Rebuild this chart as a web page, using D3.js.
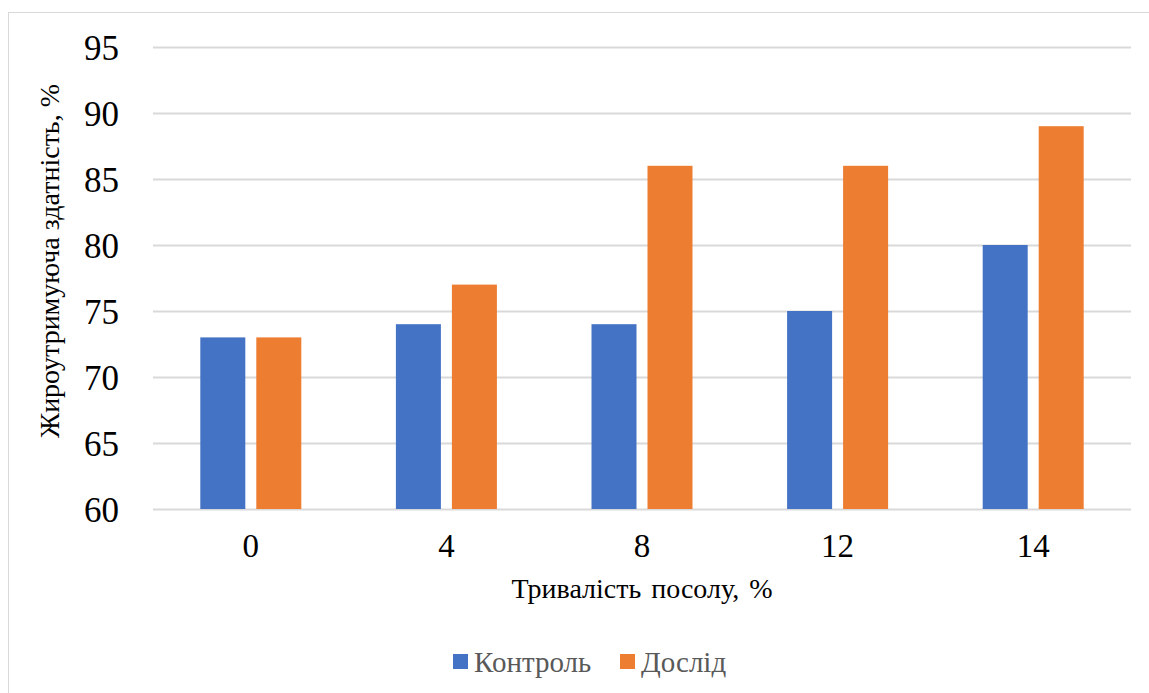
<!DOCTYPE html>
<html>
<head>
<meta charset="utf-8">
<script src="https://cdn.jsdelivr.net/npm/d3@7/dist/d3.min.js"></script>
<style>
  html, body { margin: 0; padding: 0; background: #fff; }
  svg { display: block; font-family: "Liberation Serif", "Times New Roman", serif; }
</style>
</head>
<body>
<svg id="chart" width="1149" height="693"></svg>
<script>
// Salting duration categories and fat-holding capacity per series
const categories = ["0", "4", "8", "12", "14"];
const seriesNames = ["Контроль", "Дослід"];
const control = [73, 74, 74, 75, 80];
const experiment = [73, 77, 86, 86, 89];
const yTicks = [60, 65, 70, 75, 80, 85, 90, 95];
const colors = ["#4472C4", "#ED7D31"];

const FONT = "Liberation Serif, Times New Roman, serif";
const svg = d3.select("#chart");
const W = 1149, H = 693;

// Outer chart frame
svg.append("rect")
  .attr("x", 8.5).attr("y", 12.5)
  .attr("width", W + 10).attr("height", H + 10)
  .attr("fill", "#fff").attr("stroke", "#d9d9d9").attr("stroke-width", 1);

const plot = { left: 153, right: 1131, top: 47, bottom: 509 };

const x = d3.scaleBand().domain(categories).range([plot.left, plot.right]).padding(0);
const y = d3.scaleLinear().domain([60, 95]).range([plot.bottom, plot.top]);

// Horizontal gridlines
svg.append("g")
  .selectAll("line")
  .data(yTicks)
  .join("line")
  .attr("x1", plot.left).attr("x2", plot.right)
  .attr("y1", d => Math.round(y(d)) + 0.5).attr("y2", d => Math.round(y(d)) + 0.5)
  .attr("stroke", "#d9d9d9").attr("stroke-width", 2);

// Y axis labels
const yAxis = d3.axisLeft(y).tickValues(yTicks).tickSize(0).tickPadding(0);
const gy = svg.append("g").attr("transform", "translate(119,0)").call(yAxis);
gy.attr("font-family", FONT);
gy.select(".domain").remove();
gy.selectAll("text")
  .attr("font-family", FONT)
  .attr("font-size", 35).attr("fill", "#000").attr("dy", 12);

// X axis labels
const xAxis = d3.axisBottom(x).tickSize(0).tickPadding(0);
const gx = svg.append("g").attr("transform", `translate(0,${557})`).call(xAxis);
gx.attr("font-family", FONT);
gx.select(".domain").remove();
gx.selectAll("text")
  .attr("font-family", FONT)
  .attr("font-size", 33).attr("fill", "#000").attr("y", 0).attr("dy", 0);

// Bars: two series within each category band
const barW = 45, gap = 11;
const sub = d3.scaleOrdinal().domain(seriesNames).range([-(gap / 2 + barW), gap / 2]);
const data = categories.map((c, i) => ({ c, vals: [control[i], experiment[i]] }));

svg.append("g")
  .selectAll("g")
  .data(data)
  .join("g")
  .attr("transform", d => `translate(${x(d.c) + x.bandwidth() / 2},0)`)
  .selectAll("rect")
  .data(d => d.vals.map((v, j) => ({ v, s: seriesNames[j], j })))
  .join("rect")
  .attr("x", d => sub(d.s))
  .attr("width", barW)
  .attr("y", d => y(d.v))
  .attr("height", d => y(60) - y(d.v))
  .attr("fill", d => colors[d.j]);

// Axis titles
svg.append("text")
  .attr("x", (plot.left + plot.right) / 2).attr("y", 598)
  .attr("text-anchor", "middle")
  .attr("font-family", FONT)
  .attr("font-size", 28).attr("fill", "#000")
  .attr("word-spacing", 3)
  .text("Тривалість посолу, %");

svg.append("text")
  .attr("transform", "translate(59,261) rotate(-90)")
  .attr("text-anchor", "middle")
  .attr("font-family", FONT)
  .attr("font-size", 28).attr("fill", "#000")
  .text("Жироутримуюча здатність, %");

// Legend
const legend = svg.append("g");
const legendItems = [
  { name: seriesNames[0], color: colors[0], x: 453 },
  { name: seriesNames[1], color: colors[1], x: 620 }
];
legend.selectAll("rect")
  .data(legendItems)
  .join("rect")
  .attr("x", d => d.x).attr("y", 654)
  .attr("width", 15).attr("height", 15)
  .attr("fill", d => d.color);
legend.selectAll("text")
  .data(legendItems)
  .join("text")
  .attr("x", d => d.x + 21).attr("y", 672)
  .attr("font-family", FONT)
  .attr("font-size", 29).attr("fill", "#595959")
  .text(d => d.name);
</script>
</body>
</html>
